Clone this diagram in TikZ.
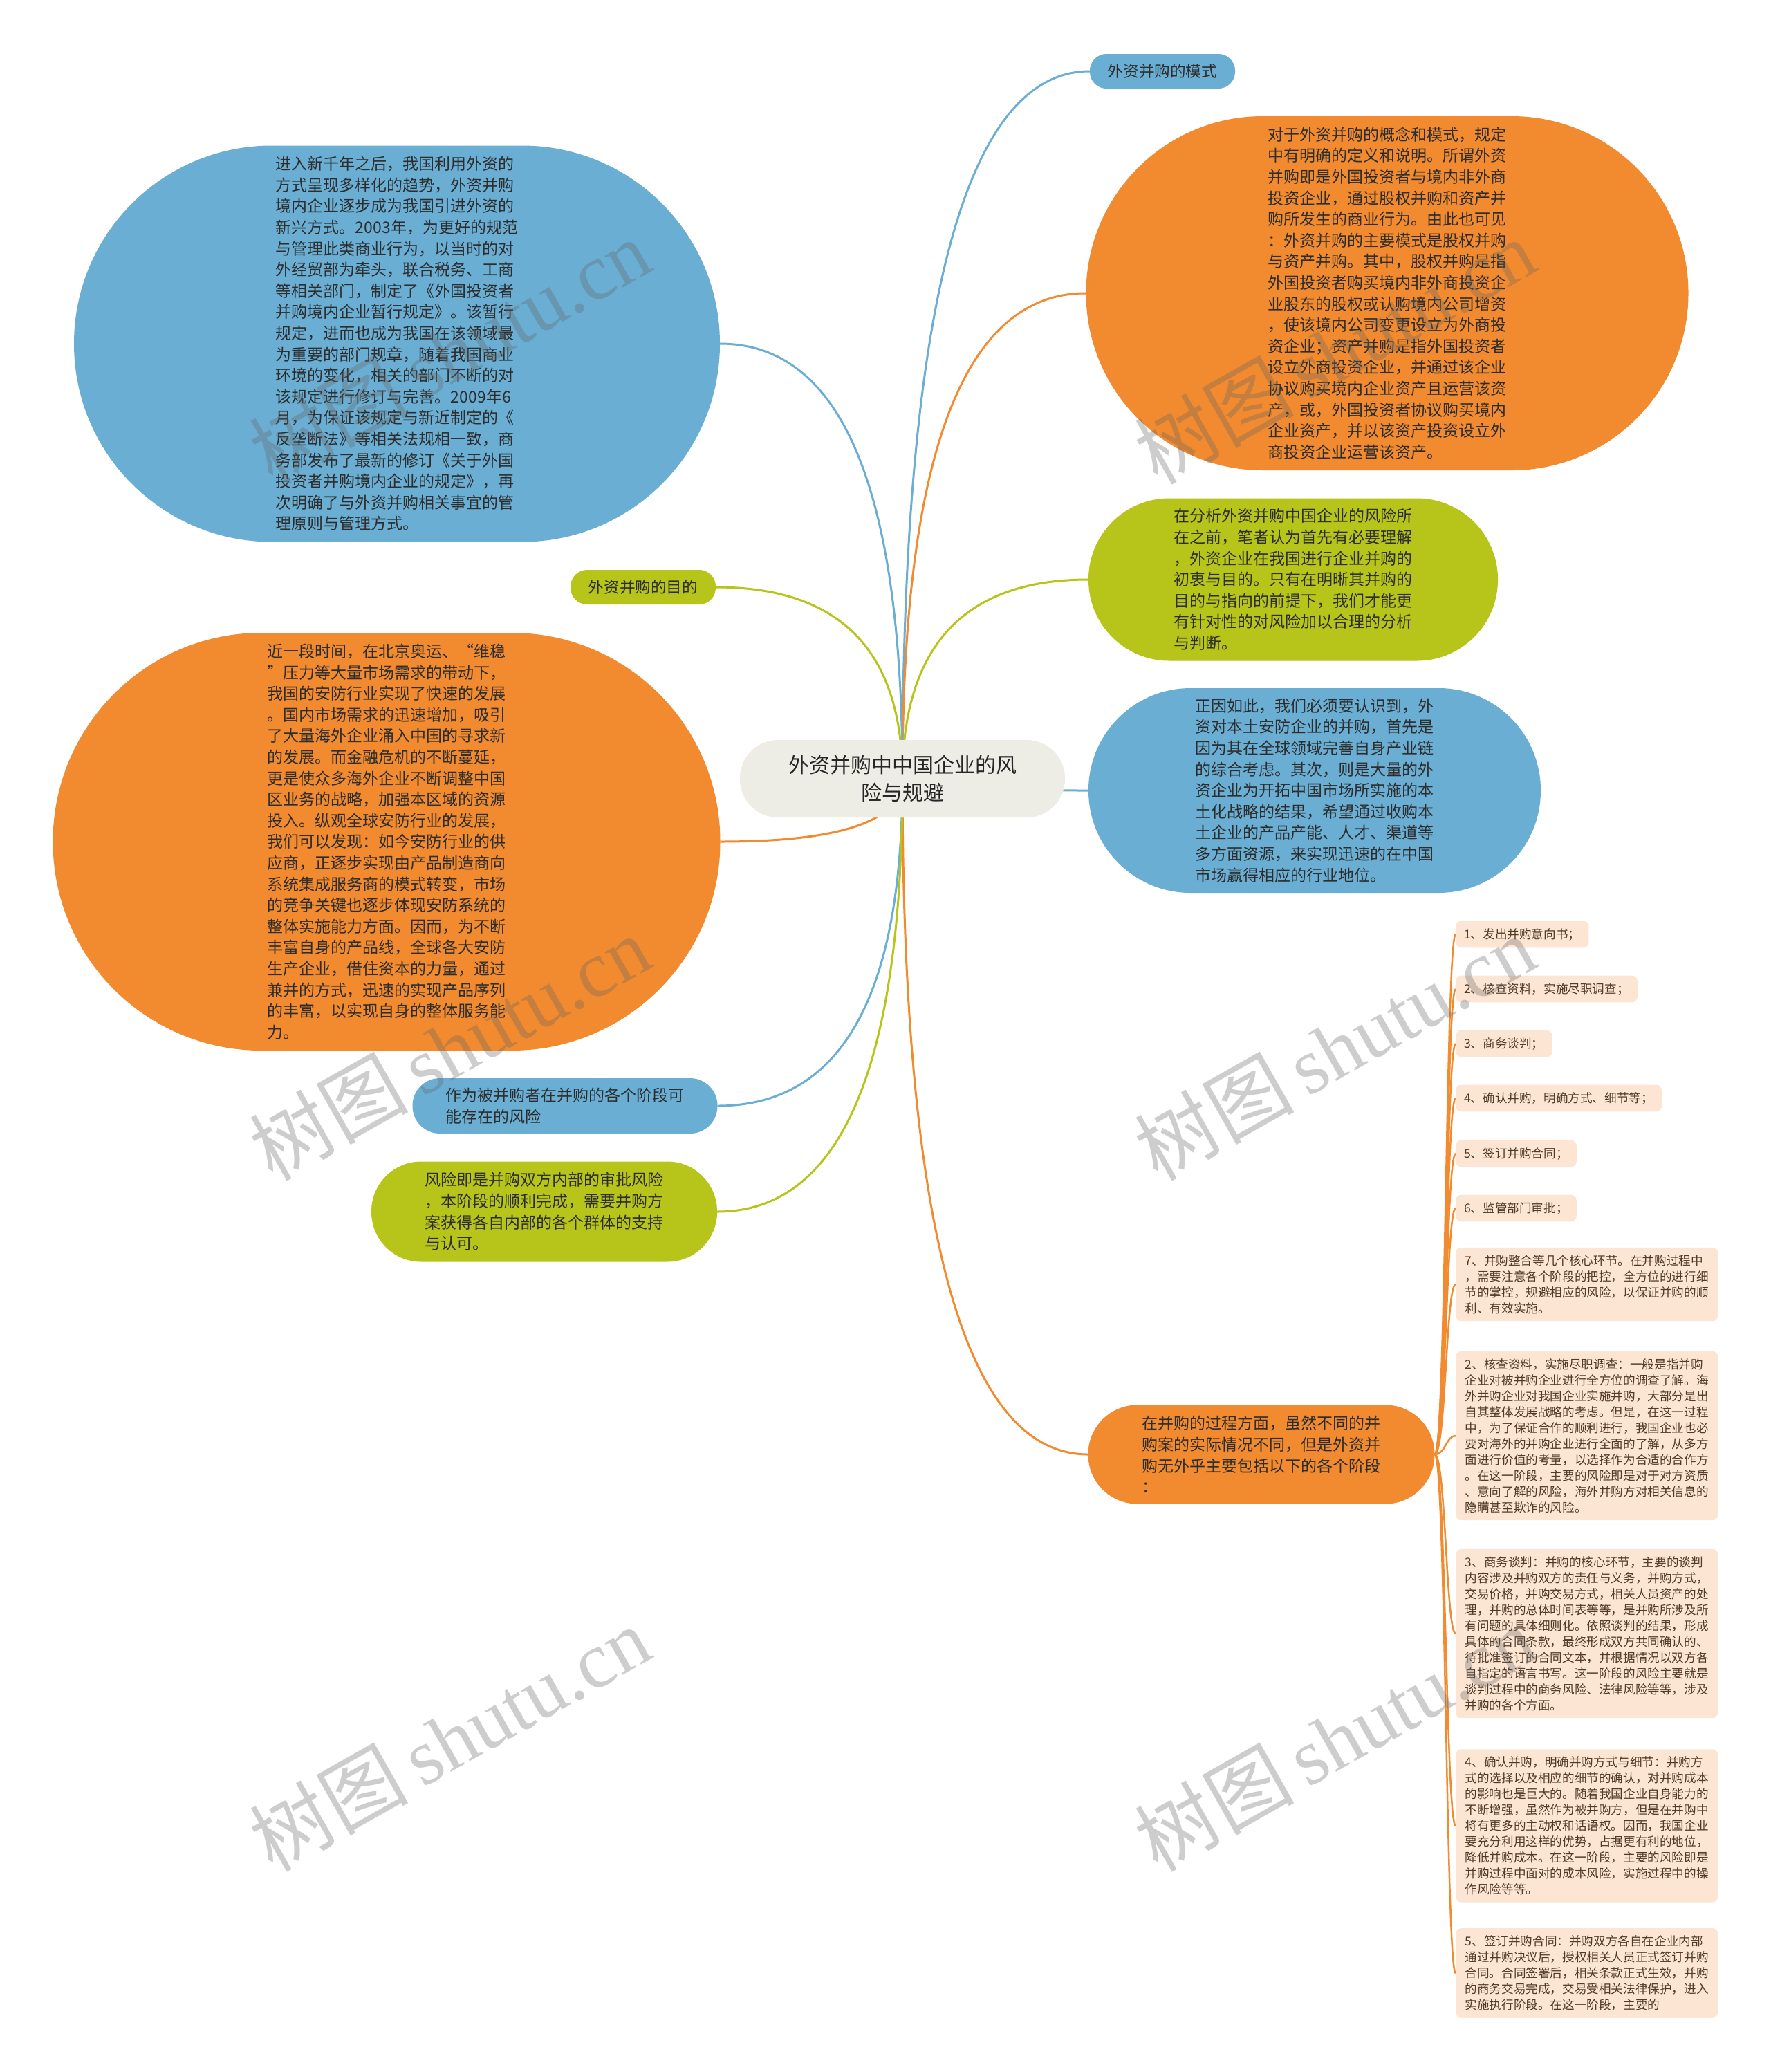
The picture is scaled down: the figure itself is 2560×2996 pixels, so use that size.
\documentclass[tikz,border=0pt]{standalone}
\usepackage{fontspec}
\setmainfont{Noto Sans CJK SC}
\newfontfamily\wmserif{Liberation Serif}
\usetikzlibrary{calc,backgrounds}
\definecolor{cblue}{RGB}{106,174,211}
\definecolor{corange}{RGB}{242,139,47}
\definecolor{cgreen}{RGB}{183,196,26}
\definecolor{croot}{RGB}{238,237,229}
\definecolor{cpeach}{RGB}{252,229,211}
\definecolor{ctext}{RGB}{45,45,45}
\definecolor{citem}{RGB}{80,58,40}
\newcommand\mmlink[3]{%
  \coordinate (q) at (root.center |- #3);
  \draw[conn,#1] (root.center) .. controls ($(root.center)!0.667!(q)$) and ($(#3)!0.667!(q)$) .. (#3);}
\newcommand\itemlink[1]{%
  \draw[iconn] (bo.east) .. controls ($(bo.east)+(16,0)$) and ($(#1.west)+(-14,0)$) .. (#1.west);}
\begin{document}
\begin{tikzpicture}[x=1pt,y=-1pt,
  bubble/.style={rectangle, inner sep=0pt, align=left, text=ctext, font=\fontsize{23}{30.6}\selectfont},
  pill/.style 2 args={minimum width=#1, minimum height=#2, rounded corners=#2/2-0.5},
  tagbox/.style={rectangle, rounded corners=24, minimum width=210, minimum height=50, inner sep=0pt, text=ctext, font=\fontsize{22.6}{26}\selectfont},
  rootbox/.style={rectangle, rounded corners=55, minimum width=470, minimum height=112, inner sep=0pt, fill=croot, align=center, text=black!85, font=\fontsize{30}{40}\selectfont},
  stepitem/.style={rectangle, rounded corners=8, fill=cpeach, inner xsep=12, inner ysep=10.5, anchor=west, align=left, text=citem, font=\fontsize{17.6}{23}\selectfont},
  conn/.style={line width=3pt},
  iconn/.style={line width=2.5pt, corange},
  wm/.style={rotate=29.5, text=black!60, text opacity=0.32, font=\fontsize{115}{125}\selectfont}
]
\useasboundingbox (0,0) rectangle (2560,2996);

% root
\node[rootbox] (root) at (1305,1126) {外资并购中中国企业的风\\险与规避};

% right side
\node[tagbox, fill=cblue] (mode) at (1681,103) {外资并购的模式};

\node[bubble, pill={871}{512}, fill=corange] (tro) at (2006,424) {对于外资并购的概念和模式，规定\\中有明确的定义和说明。所谓外资\\并购即是外国投资者与境内非外商\\投资企业，通过股权并购和资产并\\购所发生的商业行为。由此也可见\\：外资并购的主要模式是股权并购\\与资产并购。其中，股权并购是指\\外国投资者购买境内非外商投资企\\业股东的股权或认购境内公司增资\\，使该境内公司变更设立为外商投\\资企业；资产并购是指外国投资者\\设立外商投资企业，并通过该企业\\协议购买境内企业资产且运营该资\\产，或，外国投资者协议购买境内\\企业资产，并以该资产投资设立外\\商投资企业运营该资产。};

\node[bubble, pill={592}{235}, fill=cgreen] (rg) at (1870,838) {在分析外资并购中国企业的风险所\\在之前，笔者认为首先有必要理解\\，外资企业在我国进行企业并购的\\初衷与目的。只有在明晰其并购的\\目的与指向的前提下，我们才能更\\有针对性的对风险加以合理的分析\\与判断。};

\node[bubble, pill={654}{296}, fill=cblue] (rb) at (1901,1143) {正因如此，我们必须要认识到，外\\资对本土安防企业的并购，首先是\\因为其在全球领域完善自身产业链\\的综合考虑。其次，则是大量的外\\资企业为开拓中国市场所实施的本\\土化战略的结果，希望通过收购本\\土企业的产品产能、人才、渠道等\\多方面资源，来实现迅速的在中国\\市场赢得相应的行业地位。};

\node[bubble, pill={501}{143}, fill=corange] (bo) at (1824,2103) {在并购的过程方面，虽然不同的并\\购案的实际情况不同，但是外资并\\购无外乎主要包括以下的各个阶段\\：};

% left side
\node[bubble, pill={934}{573}, fill=cblue] (tlb) at (574,497) {进入新千年之后，我国利用外资的\\方式呈现多样化的趋势，外资并购\\境内企业逐步成为我国引进外资的\\新兴方式。2003年，为更好的规范\\与管理此类商业行为，以当时的对\\外经贸部为牵头，联合税务、工商\\等相关部门，制定了《外国投资者\\并购境内企业暂行规定》。该暂行\\规定，进而也成为我国在该领域最\\为重要的部门规章，随着我国商业\\环境的变化，相关的部门不断的对\\该规定进行修订与完善。2009年6\\月，为保证该规定与新近制定的《\\反垄断法》等相关法规相一致，商\\务部发布了最新的修订《关于外国\\投资者并购境内企业的规定》，再\\次明确了与外资并购相关事宜的管\\理原则与管理方式。};

\node[tagbox, fill=cgreen] (goal) at (930,849) {外资并购的目的};

\node[bubble, pill={965}{604}, fill=corange] (lo) at (559,1217) {近一段时间，在北京奥运、“维稳\\”压力等大量市场需求的带动下，\\我国的安防行业实现了快速的发展\\。国内市场需求的迅速增加，吸引\\了大量海外企业涌入中国的寻求新\\的发展。而金融危机的不断蔓延，\\更是使众多海外企业不断调整中国\\区业务的战略，加强本区域的资源\\投入。纵观全球安防行业的发展，\\我们可以发现：如今安防行业的供\\应商，正逐步实现由产品制造商向\\系统集成服务商的模式转变，市场\\的竞争关键也逐步体现安防系统的\\整体实施能力方面。因而，为不断\\丰富自身的产品线，全球各大安防\\生产企业，借住资本的力量，通过\\兼并的方式，迅速的实现产品序列\\的丰富，以实现自身的整体服务能\\力。};

\node[bubble, pill={441}{80}, fill=cblue] (lsb) at (817,1599) {作为被并购者在并购的各个阶段可\\能存在的风险};

\node[bubble, pill={500}{145}, fill=cgreen] (lsg) at (787,1752) {风险即是并购双方内部的审批风险\\，本阶段的顺利完成，需要并购方\\案获得各自内部的各个群体的支持\\与认可。};

% stage items
\node[stepitem] (s1) at (2105,1351) {1、发出并购意向书；};
\node[stepitem] (s2) at (2105,1430) {2、核查资料，实施尽职调查；};
\node[stepitem] (s3) at (2105,1509) {3、商务谈判；};
\node[stepitem] (s4) at (2105,1588) {4、确认并购，明确方式、细节等；};
\node[stepitem] (s5) at (2105,1668) {5、签订并购合同；};
\node[stepitem] (s6) at (2105,1747) {6、监管部门审批；};
\node[stepitem, minimum width=379] (s7) at (2105,1857) {7、并购整合等几个核心环节。在并购过程中\\，需要注意各个阶段的把控，全方位的进行细\\节的掌控，规避相应的风险，以保证并购的顺\\利、有效实施。};
\node[stepitem, minimum width=379] (d2) at (2105,2076) {2、核查资料，实施尽职调查：一般是指并购\\企业对被并购企业进行全方位的调查了解。海\\外并购企业对我国企业实施并购，大部分是出\\自其整体发展战略的考虑。但是，在这一过程\\中，为了保证合作的顺利进行，我国企业也必\\要对海外的并购企业进行全面的了解，从多方\\面进行价值的考量，以选择作为合适的合作方\\。在这一阶段，主要的风险即是对于对方资质\\、意向了解的风险，海外并购方对相关信息的\\隐瞒甚至欺诈的风险。};
\node[stepitem, minimum width=379] (d3) at (2105,2362) {3、商务谈判：并购的核心环节，主要的谈判\\内容涉及并购双方的责任与义务，并购方式，\\交易价格，并购交易方式，相关人员资产的处\\理，并购的总体时间表等等，是并购所涉及所\\有问题的具体细则化。依照谈判的结果，形成\\具体的合同条款，最终形成双方共同确认的、\\待批准签订的合同文本，并根据情况以双方各\\自指定的语言书写。这一阶段的风险主要就是\\谈判过程中的商务风险、法律风险等等，涉及\\并购的各个方面。};
\node[stepitem, minimum width=379] (d4) at (2105,2640) {4、确认并购，明确并购方式与细节：并购方\\式的选择以及相应的细节的确认，对并购成本\\的影响也是巨大的。随着我国企业自身能力的\\不断增强，虽然作为被并购方，但是在并购中\\将有更多的主动权和话语权。因而，我国企业\\要充分利用这样的优势，占据更有利的地位，\\降低并购成本。在这一阶段，主要的风险即是\\并购过程中面对的成本风险，实施过程中的操\\作风险等等。};
\node[stepitem, minimum width=379] (d5) at (2105,2853) {5、签订并购合同：并购双方各自在企业内部\\通过并购决议后，授权相关人员正式签订并购\\合同。合同签署后，相关条款正式生效，并购\\的商务交易完成，交易受相关法律保护，进入\\实施执行阶段。在这一阶段，主要的};

% background and connectors
\begin{scope}[on background layer]
\fill[white] (0,0) rectangle (2560,2996);
\mmlink{cblue}{root.center}{mode.west}
\mmlink{corange}{root.center}{tro.west}
\mmlink{cgreen}{root.center}{rg.west}
\mmlink{cblue}{root.center}{rb.west}
\mmlink{corange}{root.center}{bo.west}
\mmlink{cblue}{root.center}{tlb.east}
\mmlink{cgreen}{root.center}{goal.east}
\mmlink{corange}{root.center}{lo.east}
\mmlink{cblue}{root.center}{lsb.east}
\mmlink{cgreen}{root.center}{lsg.east}
\itemlink{s1}\itemlink{s2}\itemlink{s3}\itemlink{s4}\itemlink{s5}\itemlink{s6}\itemlink{s7}
\itemlink{d2}\itemlink{d3}\itemlink{d4}\itemlink{d5}
\end{scope}

% watermarks
\node[wm] (wm1) at (650,508) {树图\,{\wmserif shutu.cn}};
\node[wm] (wm2) at (1930,508) {树图\,{\wmserif shutu.cn}};
\node[wm] (wm3) at (650,1515) {树图\,{\wmserif shutu.cn}};
\node[wm] (wm4) at (1930,1515) {树图\,{\wmserif shutu.cn}};
\node[wm] (wm5) at (650,2514) {树图\,{\wmserif shutu.cn}};
\node[wm] (wm6) at (1930,2514) {树图\,{\wmserif shutu.cn}};
\end{tikzpicture}
\end{document}
